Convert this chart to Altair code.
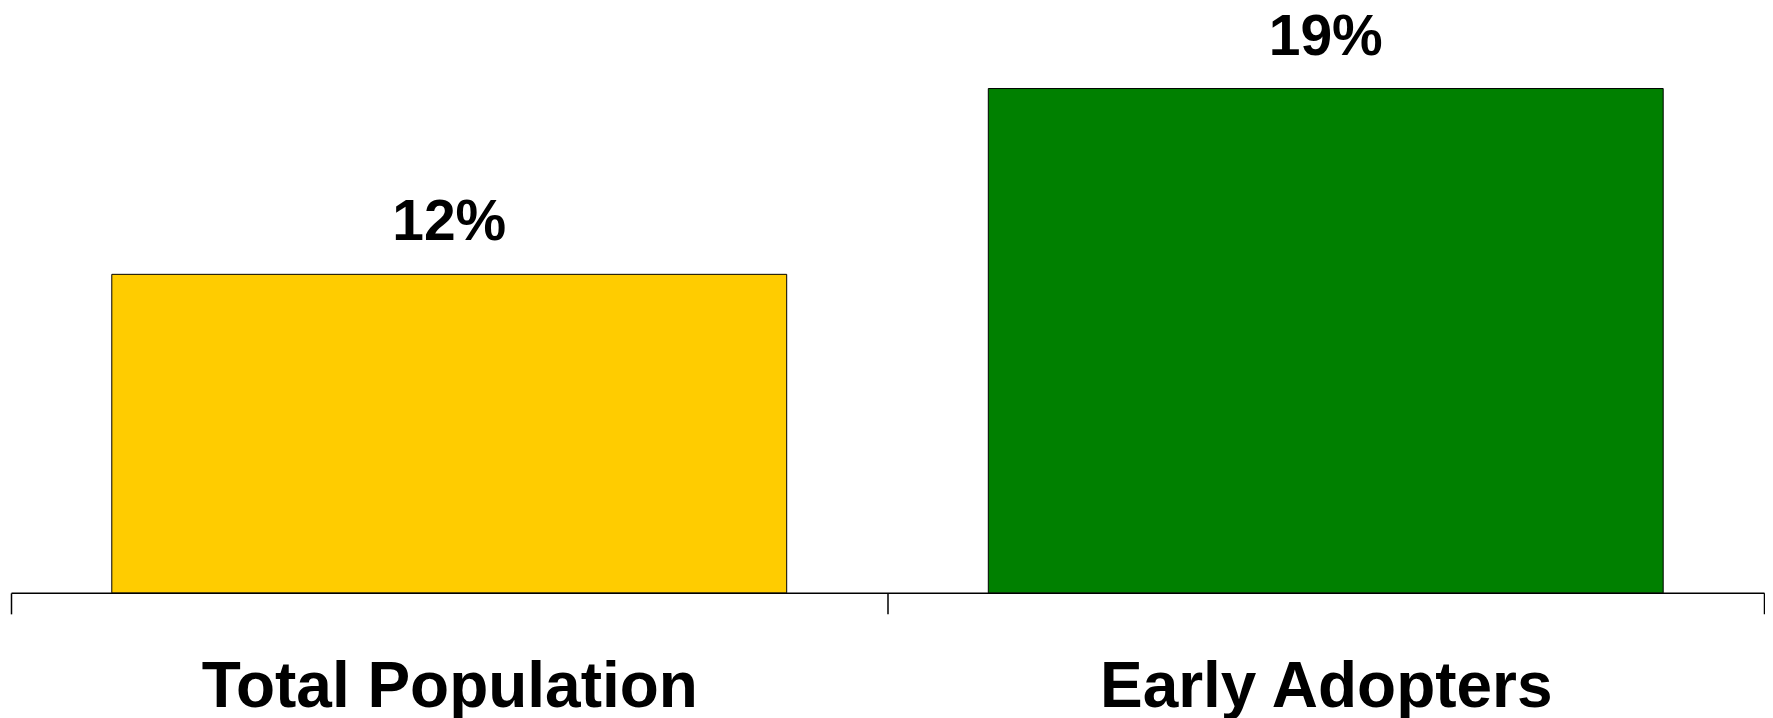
import altair as alt
import pandas as pd

categories = ["Total Population", "Early Adopters"]
values = [12, 19]
labels = ["12%", "19%"]
colors = ["#FFCC00", "#008000"]

df = pd.DataFrame({"cat": categories, "val": values, "lab": labels})

x = alt.X(
    "cat:N",
    sort=categories,
    title=None,
    scale=alt.Scale(paddingInner=0, paddingOuter=0),
    axis=alt.Axis(
        tickBand="extent",
        labelAngle=0,
        labelFont="Liberation Sans",
        labelFontSize=64,
        labelFontWeight="bold",
        labelColor="black",
        labelBaseline="alphabetic",
        labelPadding=93,
        labelLimit=0,
        tickSize=21,
        tickColor="black",
        tickWidth=1.5,
        domainColor="black",
        domainWidth=1.5,
        grid=False,
    ),
)
y = alt.Y("val:Q", scale=alt.Scale(domain=[0, 21.8]), axis=None)

bars = alt.Chart(df).mark_bar(
    width=alt.RelativeBandSize(0.77), stroke="black", strokeWidth=1
).encode(
    x=x,
    y=y,
    color=alt.Color("cat:N", scale=alt.Scale(domain=categories, range=colors), legend=None),
)

text = alt.Chart(df).mark_text(
    dy=-34,
    baseline="alphabetic",
    font="Liberation Sans",
    fontSize=57,
    fontWeight="bold",
    color="black",
).encode(x=x, y=y, text="lab:N")

chart = (
    alt.layer(bars, text)
    .properties(width=1754, height=579, padding={"left": 2, "top": 0, "right": 0, "bottom": 0})
    .configure_view(stroke=None)
)

chart.save("out.html", embed_options={"renderer": "svg", "actions": False})
